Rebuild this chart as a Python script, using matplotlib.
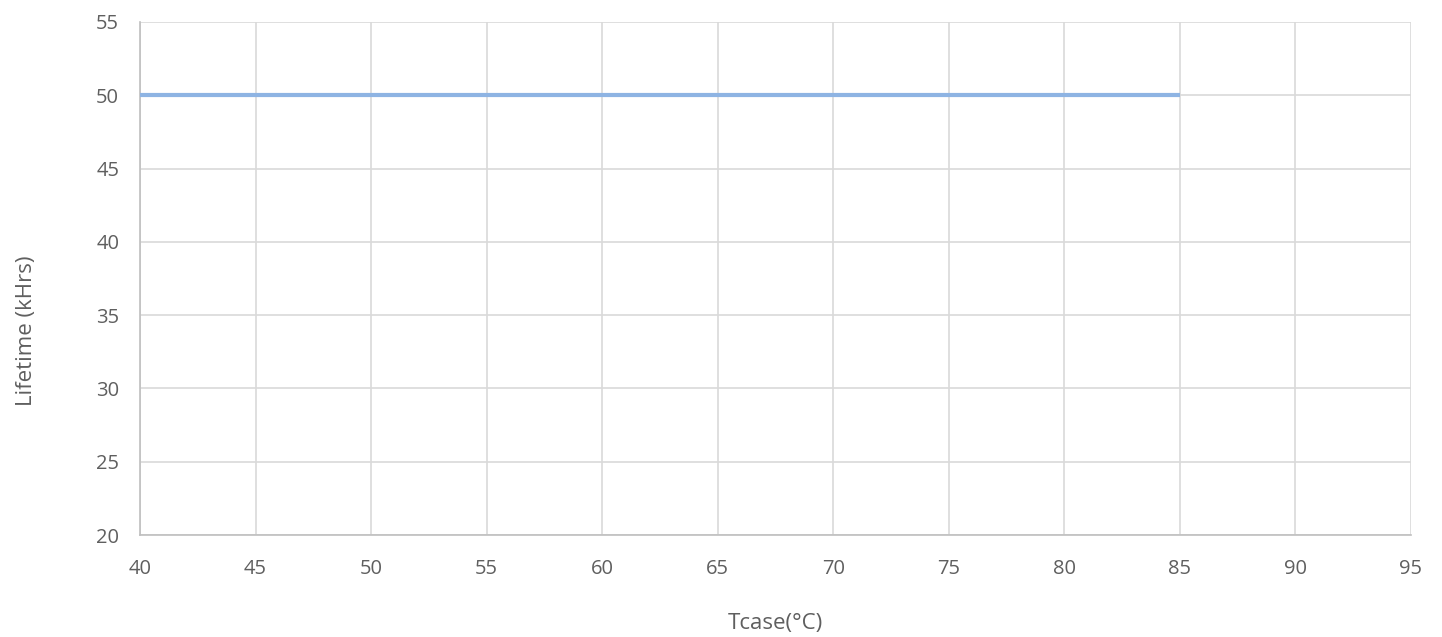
import matplotlib.pyplot as plt

plt.rcParams["font.family"] = ["Open Sans", "DejaVu Sans"]

# données
tcase = [40, 45, 50, 55, 60, 65, 70, 75, 80, 85]
lifetime = [50, 50, 50, 50, 50, 50, 50, 50, 50, 50]
x_ticks = list(range(40, 100, 5))
y_ticks = list(range(20, 60, 5))

fig = plt.figure(figsize=(14.42, 6.37), dpi=100)
ax = fig.add_axes([0.0971, 0.160, 0.8814, 0.8055])

ax.plot(tcase, lifetime, color="#8eb4e3", linewidth=3, solid_capstyle="butt", zorder=3)

ax.set_xlim(40, 95)
ax.set_ylim(20, 55)
ax.set_xticks(x_ticks)
ax.set_yticks(y_ticks)
ax.grid(True, color="#d9d9d9", linewidth=1.2)
ax.set_axisbelow(True)

for side in ["top", "right"]:
    ax.spines[side].set_visible(False)
for side in ["left", "bottom"]:
    ax.spines[side].set_color("#bfbfbf")
    ax.spines[side].set_linewidth(1.2)

ax.tick_params(length=0, labelsize=14.5, labelcolor="#5f5f5f")
ax.tick_params(axis="x", pad=17)
ax.tick_params(axis="y", pad=15)

ax.set_xlabel("Tcase(°C)", fontsize=16, color="#5f5f5f")
ax.set_ylabel("Lifetime (kHrs)", fontsize=16, color="#5f5f5f")
ax.xaxis.set_label_coords(0.5, -0.152)
ax.yaxis.set_label_coords(-0.081, 0.398)

fig.savefig("out.png", dpi=100)
